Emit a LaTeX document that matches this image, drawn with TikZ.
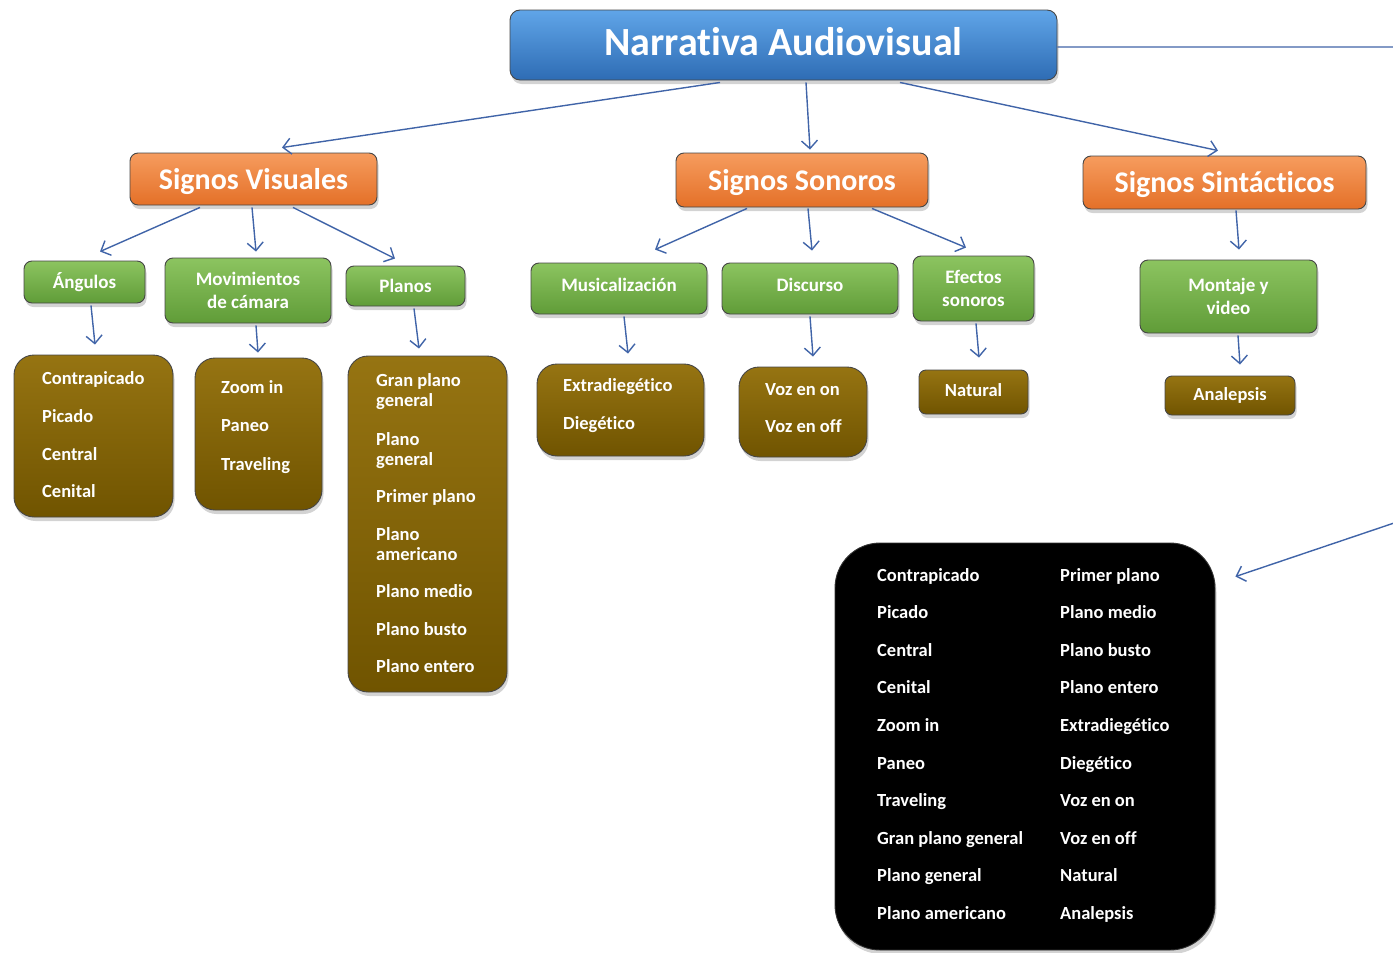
\documentclass[tikz,border=0pt]{standalone}
\usepackage{fontspec}
\setmainfont{Carlito}[Ligatures=NoCommon]
\usetikzlibrary{arrows.meta,shadows}
\definecolor{arrc}{RGB}{64,100,168}
\definecolor{edgec}{RGB}{70,70,70}
\definecolor{blueT}{RGB}{96,165,232}
\definecolor{blueB}{RGB}{46,108,180}
\definecolor{oraT}{RGB}{246,156,94}
\definecolor{oraB}{RGB}{228,112,40}
\definecolor{grnT}{RGB}{140,196,96}
\definecolor{grnB}{RGB}{96,156,56}
\definecolor{brnT}{RGB}{150,116,18}
\definecolor{brnB}{RGB}{112,84,0}
\newcommand{\lift}[2]{\raisebox{#1}[\height][\depth]{#2}}
\begin{document}
\begin{tikzpicture}[x=1pt,y=-1pt,
  box/.style={draw=edgec, line width=0.9pt, text=white, align=center, inner sep=0pt,
    drop shadow={opacity=0.35,shadow xshift=1.5pt,shadow yshift=-4pt}},
  sz/.style 2 args={minimum width=#1pt, minimum height=#2pt},
  bluebox/.style={box, top color=blueT, bottom color=blueB, rounded corners=10pt,
    font=\bfseries\fontsize{40}{44}\selectfont},
  orangebox/.style={box, top color=oraT, bottom color=oraB, rounded corners=8pt,
    font=\bfseries\fontsize{30}{34}\selectfont},
  greenbox/.style={box, top color=grnT, bottom color=grnB, rounded corners=8pt,
    font=\bfseries\fontsize{19}{23}\selectfont},
  brownbox/.style={box, top color=brnT, bottom color=brnB, rounded corners=20pt,
    font=\bfseries\fontsize{18.5}{20}\selectfont},
  smallbrown/.style={brownbox, rounded corners=7pt},
  blackbox/.style={box, fill=black, draw=black!80, rounded corners=45pt},
  item/.style={text=white, font=\bfseries\fontsize{18.5}{20}\selectfont, anchor=base west, inner sep=0pt},
  arr/.style={draw=arrc, line width=1.4pt, -{Straight Barb[length=8pt,width=16pt,line width=1.4pt]}}
]
\useasboundingbox (0,0) rectangle (1393,953);
\clip (0,0) rectangle (1393,953);

% level 0
\node[bluebox, sz={547}{70}] (top) at (783.5,45) {\lift{3pt}{Narrativa Audiovisual}};
% level 1
\node[orangebox, sz={247}{52}] (sv) at (253.5,179) {\lift{-3pt}{Signos Visuales}};
\node[orangebox, sz={252}{54}] (ss) at (802,180) {\lift{-3pt}{Signos Sonoros}};
\node[orangebox, sz={283}{53}] (st) at (1224.5,182.5) {\lift{-2pt}{Signos Sintácticos}};
% level 2
\node[greenbox, sz={121}{42}] (ang) at (84.5,282) {Ángulos};
\node[greenbox, sz={166}{65}] (mov) at (248,290.5) {Movimientos\\de cámara};
\node[greenbox, sz={119}{40}] (pla) at (405.5,286) {Planos};
\node[greenbox, sz={176}{51}] (mus) at (619,288.5) {\lift{4pt}{Musicalización}};
\node[greenbox, sz={176}{51}] (dis) at (810,288.5) {\lift{4pt}{Discurso}};
\node[greenbox, sz={121}{65}] (efe) at (973.5,288.5) {Efectos\\sonoros};
\node[greenbox, sz={177}{73}] (mon) at (1228.5,296.5) {Montaje y\\video};
% level 3
\node[brownbox, sz={159}{162}] (angL) at (93.5,436) {};
\node[brownbox, sz={127}{152}] (movL) at (258.5,434) {};
\node[brownbox, sz={159}{336}] (plaL) at (427.5,524) {};
\node[brownbox, sz={167}{92}] (musL) at (620.5,410) {};
\node[brownbox, sz={128}{90}] (disL) at (803,412) {};
\node[smallbrown, sz={109}{44}] (nat) at (973.5,392) {\lift{2pt}{Natural}};
\node[smallbrown, sz={130}{39}] (ana) at (1230,395.5) {Analepsis};
% summary box
\node[blackbox, sz={380}{407}] (blk) at (1025,746.5) {};

% list items
\foreach \t/\y [count=\i] in {Contrapicado/378, Picado/416, Central/454, Cenital/491}
  \node[item] (angI\i) at (42,{\y+6}) {\t};
\foreach \t/\y [count=\i] in {Zoom in/387, Paneo/425, Traveling/464}
  \node[item] (movI\i) at (221,{\y+6}) {\t};
\foreach \t/\y [count=\i] in {Gran plano/380, general/400, Plano/439, general/459, Primer plano/496,
  Plano/534, americano/554, Plano medio/591, Plano busto/629, Plano entero/666}
  \node[item] (plaI\i) at (376,{\y+6}) {\t};
\foreach \t/\y [count=\i] in {Extradiegético/385, Diegético/423}
  \node[item] (musI\i) at (563,{\y+6}) {\t};
\foreach \t/\y [count=\i] in {Voz en on/389, Voz en off/426}
  \node[item] (disI\i) at (765,{\y+6}) {\t};
\foreach \t [count=\i] in {Contrapicado, Picado, Central, Cenital, Zoom in, Paneo, Traveling,
  Gran plano general, Plano general, Plano americano}
  \node[item] (blkL\i) at (877,{575+(\i-1)*37.6+6}) {\t};
\foreach \t [count=\i] in {Primer plano, Plano medio, Plano busto, Plano entero, Extradiegético,
  Diegético, Voz en on, Voz en off, Natural, Analepsis}
  \node[item] (blkR\i) at (1060,{575+(\i-1)*37.6+6}) {\t};

% connectors level 0 -> 1
\draw[arr] ([xshift=-63.5pt,yshift=-2pt]top.south) -- ([xshift=28.5pt,yshift=5pt]sv.north);
\draw[arr] ([xshift=22.5pt,yshift=-2pt]top.south) -- ([xshift=8pt,yshift=3pt]ss.north);
\draw[arr] ([xshift=116.5pt,yshift=-2pt]top.south) -- ([xshift=-6.5pt,yshift=5pt]st.north);
% level 1 -> 2
\draw[arr] ([xshift=-53.5pt,yshift=-2pt]sv.south) -- ([xshift=15.5pt,yshift=9pt]ang.north);
\draw[arr] ([xshift=-1.5pt,yshift=-2pt]sv.south) -- ([xshift=8pt,yshift=6pt]mov.north);
\draw[arr] ([xshift=39.5pt,yshift=-2pt]sv.south) -- ([xshift=-10.5pt,yshift=7pt]pla.north);
\draw[arr] ([xshift=-55pt,yshift=-1pt]ss.south) -- ([xshift=36pt,yshift=13pt]mus.north);
\draw[arr] ([xshift=6pt,yshift=-1pt]ss.south) -- ([xshift=2pt,yshift=12pt]dis.north);
\draw[arr] ([xshift=70pt,yshift=-1pt]ss.south) -- ([xshift=-7.5pt,yshift=8pt]efe.north);
\draw[arr] ([xshift=11.5pt,yshift=-1pt]st.south) -- ([xshift=10.5pt,yshift=10pt]mon.north);
% level 2 -> 3
\draw[arr] ([xshift=6.5pt,yshift=-2pt]ang.south) -- ([xshift=1.5pt,yshift=10pt]angL.north);
\draw[arr] ([xshift=8pt,yshift=-2pt]mov.south) -- ([xshift=-0.5pt,yshift=5pt]movL.north);
\draw[arr] ([xshift=8.5pt,yshift=-2pt]pla.south) -- ([xshift=-8.5pt,yshift=7pt]plaL.north);
\draw[arr] ([xshift=5pt,yshift=-2pt]mus.south) -- ([xshift=7.5pt,yshift=10pt]musL.north);
\draw[arr] ([yshift=-2pt]dis.south) -- ([xshift=10pt,yshift=10pt]disL.north);
\draw[arr] ([xshift=2.5pt,yshift=-2pt]efe.south) -- ([xshift=5.5pt,yshift=12pt]nat.north);
\draw[arr] ([xshift=9.5pt,yshift=-2pt]mon.south) -- ([xshift=10pt,yshift=11pt]ana.north);
% long connector leaving the frame and returning to the summary box
\coordinate (offA) at (1400,47);
\coordinate (offB) at (1400,521);
\draw[arr] ([yshift=-2pt]top.east) -- (offA) -- (offB) -- ([xshift=20pt,yshift=-34pt]blk.north east);
\end{tikzpicture}
\end{document}
